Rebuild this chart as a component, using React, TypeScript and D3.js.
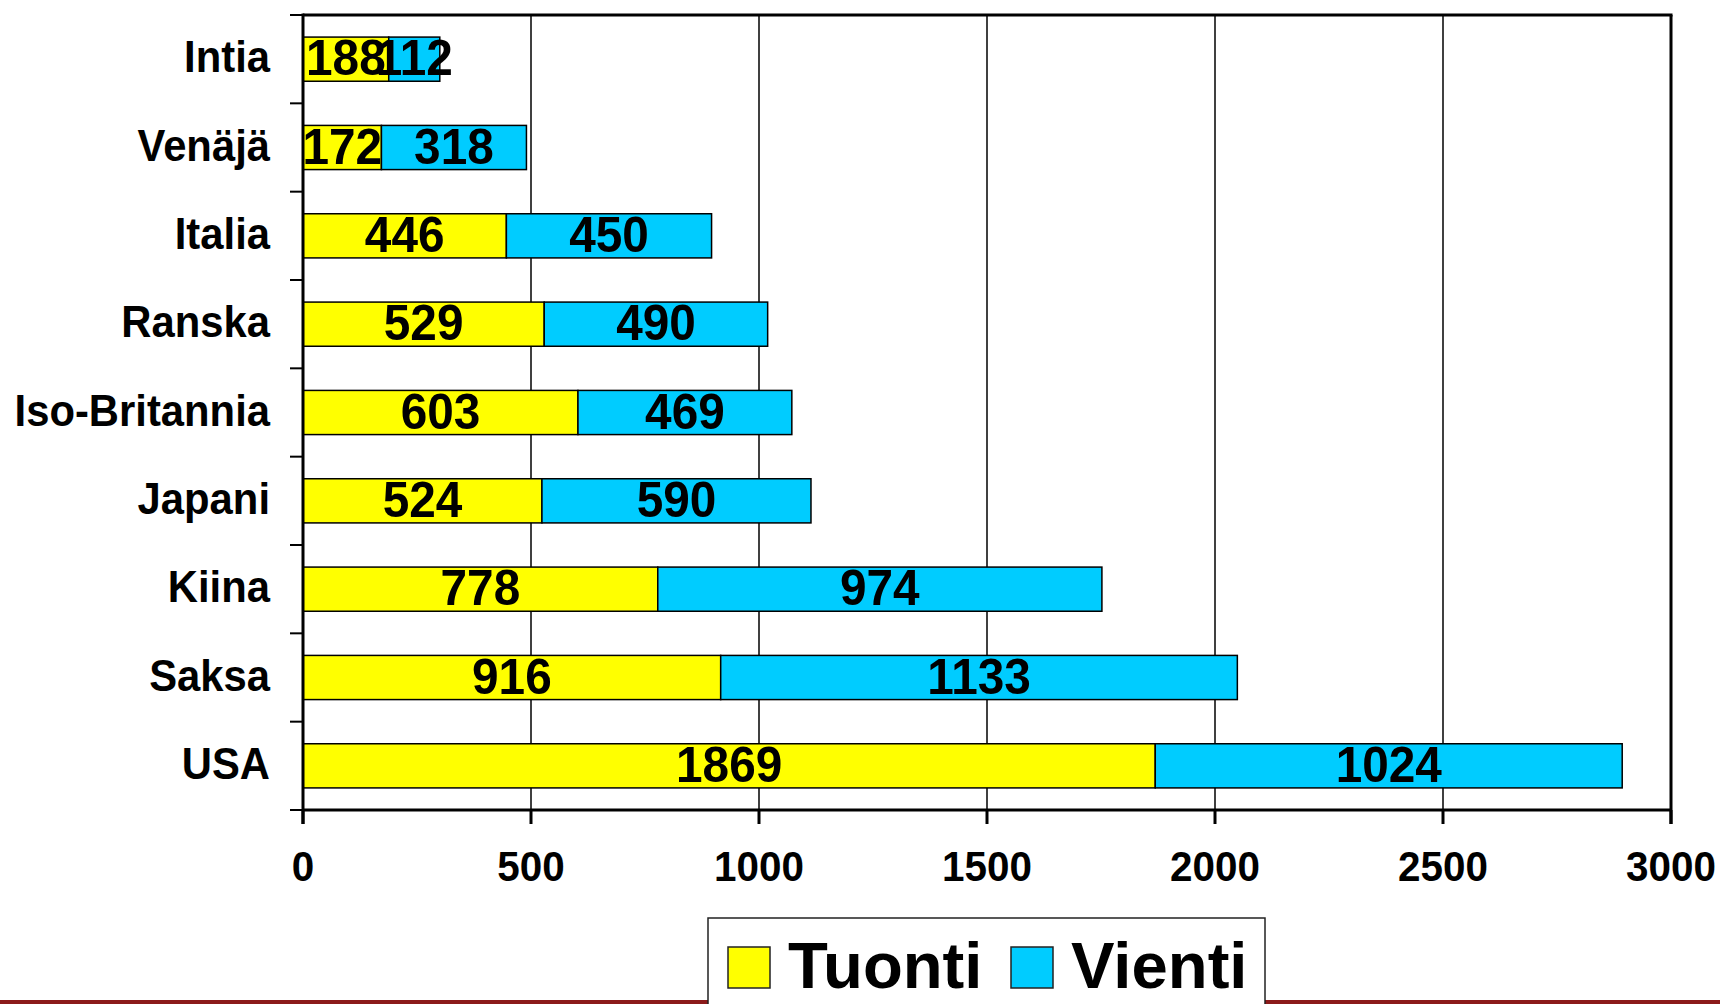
import React from "react";
import * as d3 from "d3";

const categories = ["Intia", "Venäjä", "Italia", "Ranska", "Iso-Britannia", "Japani", "Kiina", "Saksa", "USA"];
const tuonti = [188, 172, 446, 529, 603, 524, 778, 916, 1869];
const vienti = [112, 318, 450, 490, 469, 590, 974, 1133, 1024];
const xTicks = [0, 500, 1000, 1500, 2000, 2500, 3000];
const seriesNames = ["Tuonti", "Vienti"];
const seriesColors = ["#FFFF00", "#00CCFF"];

const W = 1720;
const H = 1004;
const left = 303;
const right = 1671;
const top = 15;
const bottom = 810;
const FONT = "'Liberation Sans', Arial, Helvetica, sans-serif";

function CText({ x, y, size, anchor, sx, children }: any) {
  return (
    <text
      transform={`translate(${x},${y}) scale(${sx},1)`}
      fontFamily={FONT}
      fontWeight="bold"
      fontSize={size}
      textAnchor={anchor}
      fill="#000"
    >
      {children}
    </text>
  );
}

export default function App() {
  const x = d3.scaleLinear().domain([0, 3000]).range([left, right]);
  const y = d3.scaleBand<string>().domain(categories).range([top, bottom]).paddingInner(0.5).paddingOuter(0.25);
  const step = y.step();
  const bw = y.bandwidth();
  const boundaries = d3.range(categories.length + 1).map((i) => top + i * step);

  const rows = categories.map((c, i) => {
    const t = tuonti[i];
    const v = vienti[i];
    return { c, segs: [{ x0: 0, x1: t, val: t, col: seriesColors[0] }, { x0: t, x1: t + v, val: v, col: seriesColors[1] }] };
  });

  return (
    <svg width={W} height={H} style={{ position: "absolute", left: 0, top: 0, display: "block", background: "#fff" }}>
      <rect x={0} y={0} width={W} height={H} fill="#fff" />
      {/* red line at bottom */}
      <line x1={0} x2={W} y1={1002} y2={1002} stroke="#8B1A1A" strokeWidth={4} />

      {/* gridlines */}
      {xTicks.slice(1, -1).map((t) => (
        <line key={t} x1={x(t)} x2={x(t)} y1={top} y2={bottom} stroke="#000" strokeWidth={1.5} />
      ))}

      {/* bars */}
      {rows.map((r) =>
        r.segs.map((s, j) => (
          <rect
            key={r.c + j}
            x={x(s.x0)}
            y={y(r.c)!}
            width={x(s.x1) - x(s.x0)}
            height={bw}
            fill={s.col}
            stroke="#000"
            strokeWidth={1.5}
          />
        ))
      )}

      {/* plot border top & right */}
      <line x1={left} x2={right + 1.5} y1={top} y2={top} stroke="#000" strokeWidth={3} />
      <line x1={right} x2={right} y1={top} y2={bottom + 14} stroke="#000" strokeWidth={3} />

      {/* axes */}
      <line x1={left} x2={left} y1={top - 1.5} y2={bottom + 14} stroke="#000" strokeWidth={3} />
      <line x1={left} x2={right} y1={bottom} y2={bottom} stroke="#000" strokeWidth={3} />
      {boundaries.map((b, i) => (
        <line key={"yt" + i} x1={left - 13} x2={left} y1={b} y2={b} stroke="#000" strokeWidth={2} />
      ))}
      {xTicks.map((t) => (
        <line key={"xt" + t} x1={x(t)} x2={x(t)} y1={bottom} y2={bottom + 14} stroke="#000" strokeWidth={3} />
      ))}

      {/* bar labels */}
      {rows.map((r) =>
        r.segs.map((s, j) => (
          <CText
            key={"l" + r.c + j}
            x={(x(s.x0) + x(s.x1)) / 2}
            y={y(r.c)! + bw / 2 + 16}
            size={50}
            anchor="middle"
            sx={0.955}
          >
            {s.val}
          </CText>
        ))
      )}

      {/* category labels */}
      {categories.map((c) => (
        <CText key={"c" + c} x={270} y={y(c)! + bw / 2 + 13} size={44} anchor="end" sx={0.95}>
          {c}
        </CText>
      ))}

      {/* x tick labels */}
      {xTicks.map((t) => (
        <CText key={"xl" + t} x={x(t)} y={881} size={43} anchor="middle" sx={0.94}>
          {t}
        </CText>
      ))}

      {/* legend */}
      <rect x={708} y={918} width={557} height={100} fill="#fff" stroke="#222" strokeWidth={1.5} />
      {seriesNames.map((n, i) => {
        const sx = i === 0 ? 728 : 1011;
        return (
          <g key={n}>
            <rect x={sx} y={947} width={42} height={41} fill={seriesColors[i]} stroke="#222" strokeWidth={1.5} />
            <CText x={sx + 60} y={988} size={64} anchor="start" sx={1.02}>
              {n}
            </CText>
          </g>
        );
      })}
    </svg>
  );
}
